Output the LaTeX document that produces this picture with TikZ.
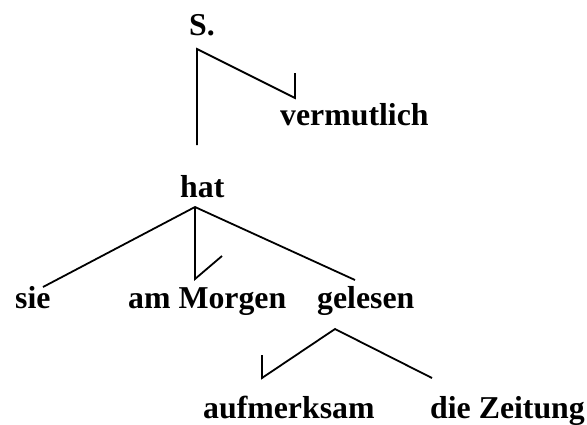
\documentclass[tikz,border=0pt]{standalone}
\usepackage{fontspec}
\setmainfont{Liberation Serif}
\begin{document}
\begin{tikzpicture}[x=1pt,y=-1pt,
  word/.style={anchor=base west,inner sep=0pt,font=\fontsize{31.8}{37}\selectfont\bfseries},
  edge/.style={line width=1.8pt,line join=miter}]
\useasboundingbox (0,0) rectangle (587,424);
% words
\node[word] (S) at (189,35) {S.};
\node[word] (verm) at (280,125) {vermutlich};
\node[word] (hat) at (180,197) {hat};
\node[word] (sie) at (15,308) {sie};
\node[word] (morgen) at (128,308) {am Morgen};
\node[word] (gelesen) at (317,308) {gelesen};
\node[word] (aufm) at (203,418) {aufmerksam};
\node[word] (zeit) at (430,418) {die Zeitung};
% junction points
\coordinate (sTop) at (197,49);
\coordinate (sBot) at (197,145);
\coordinate (vEnd) at (295,98);
\coordinate (vHook) at (295,73);
\coordinate (hTop) at (195,207);
\coordinate (sieEnd) at (43,287);
\coordinate (mEnd) at (195,279);
\coordinate (mHook) at (222,256);
\coordinate (gEnd) at (355,280);
\coordinate (gTop) at (335,329);
\coordinate (aEnd) at (262,378);
\coordinate (aHook) at (262,355);
\coordinate (zEnd) at (432,378);
% connectors
\draw[edge] (sBot) -- (sTop) -- (vEnd) -- (vHook);
\draw[edge] (sieEnd) -- (hTop) -- (gEnd);
\draw[edge] (hTop) -- (mEnd) -- (mHook);
\draw[edge] (aHook) -- (aEnd) -- (gTop) -- (zEnd);
\end{tikzpicture}
\end{document}
